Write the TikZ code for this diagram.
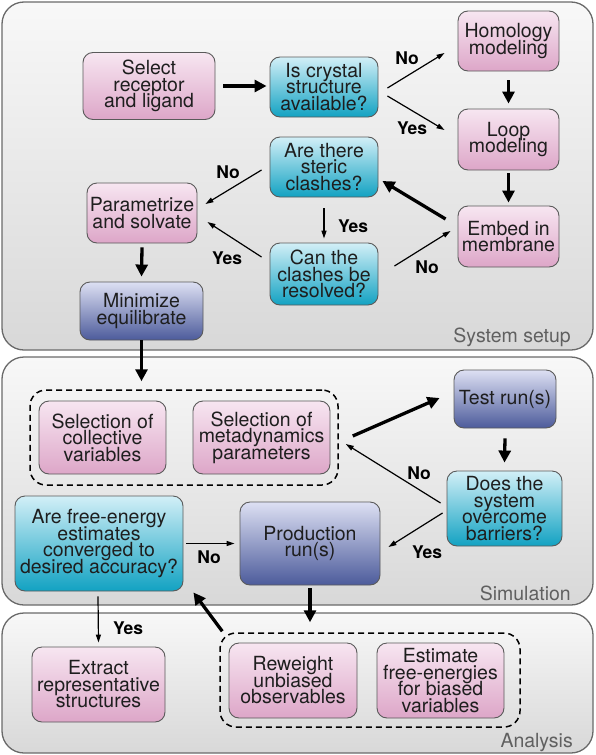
\documentclass[tikz,border=0pt]{standalone}
\usepackage{fontspec}
\setmainfont{TeX Gyre Heros}
\usetikzlibrary{arrows.meta,calc}
\definecolor{pinkT}{HTML}{F7E6F1}
\definecolor{pinkB}{HTML}{DDA6C8}
\definecolor{cyanT}{HTML}{D2EFF7}
\definecolor{cyanB}{HTML}{12A2C2}
\definecolor{blueT}{HTML}{DDE0F3}
\definecolor{blueB}{HTML}{4C5B9B}
\definecolor{panT}{HTML}{F8F8F8}
\definecolor{panB}{HTML}{D8D8D8}
\definecolor{edge}{HTML}{5A5A5A}
\definecolor{panedge}{HTML}{6A6A6A}
\definecolor{txt}{HTML}{1E1E1E}
\definecolor{lbl}{HTML}{606060}
\newcommand\myboxfont{\fontsize{19.5}{16.5}\selectfont\lineskiplimit=-30pt\relax}
\begin{document}
\begin{tikzpicture}[x=1pt,y=-1pt,
  box/.style={rounded corners=10pt, draw=edge, line width=0.9pt, align=center, inner sep=0pt, text=txt,
    font=\myboxfont},
  pinkbox/.style={box, top color=pinkT, bottom color=pinkB},
  cyanbox/.style={box, top color=cyanT, bottom color=cyanB},
  bluebox/.style={box, top color=blueT, bottom color=blueB},
  panel/.style={rounded corners=22pt, draw=panedge, line width=1.3pt, top color=panT, bottom color=panB, inner sep=0pt},
  grp/.style={rounded corners=16pt, draw=black, line width=1.5pt, dash pattern=on 6pt off 4pt, inner sep=0pt},
  thk/.style={line width=3.3pt, -{Triangle[length=12pt,width=12pt]}},
  thn/.style={line width=1.2pt, -{Triangle[length=8pt,width=5pt]}},
  ans/.style={font=\fontsize{17.5}{18}\selectfont\bfseries, text=black, inner sep=0pt},
  plabel/.style={font=\fontsize{19.5}{20}\selectfont, text=lbl, anchor=east, inner sep=0pt}
]
\useasboundingbox (0,0) rectangle (596,755);

% panels
\node[panel, minimum width=591pt, minimum height=348pt] (p1) at (297.5,176) {};
\node[panel, minimum width=591pt, minimum height=248pt] (p2) at (297.5,481) {};
\node[panel, minimum width=591pt, minimum height=140pt] (p3) at (297.5,683) {};
\node[plabel] (l1) at (571,337) {System setup};
\node[plabel] (l2) at (571,593) {Simulation};
\node[plabel] (l3) at (573,743) {Analysis};

% dashed groups
\node[grp, minimum width=308pt, minimum height=95pt] (g1) at (184,437.5) {};
\node[grp, minimum width=300pt, minimum height=94pt] (g2) at (370,680) {};

% System setup
\node[pinkbox, minimum width=132pt, minimum height=67pt] (sel) at (149,86) {Select\\receptor\\and ligand};
\node[cyanbox, minimum width=108pt, minimum height=60pt] (cry) at (324,87) {Is crystal\\structure\\available?};
\node[pinkbox, minimum width=101pt, minimum height=60pt] (hom) at (508.5,41) {Homology\\modeling};
\node[pinkbox, minimum width=101pt, minimum height=61pt] (loop) at (508.5,139.5) {Loop\\modeling};
\node[pinkbox, minimum width=101pt, minimum height=61pt] (emb) at (508.5,236.5) {Embed in\\membrane};
\node[cyanbox, minimum width=108pt, minimum height=60pt] (ste) at (324,167) {Are there\\steric\\clashes?};
\node[cyanbox, minimum width=108pt, minimum height=62pt] (can) at (324,274) {Can the\\clashes be\\resolved?};
\node[pinkbox, minimum width=110pt, minimum height=60pt] (par) at (142,213) {Parametrize\\and solvate};
\node[bluebox, minimum width=123pt, minimum height=58pt] (min) at (141.5,311) {Minimize\\equilibrate};

% Simulation
\node[pinkbox, minimum width=127pt, minimum height=73pt] (scv) at (102.5,437.5) {Selection of\\collective\\variables};
\node[pinkbox, minimum width=137pt, minimum height=73pt] (smp) at (261.5,437.5) {Selection of\\metadynamics\\parameters};
\node[bluebox, minimum width=102pt, minimum height=58pt] (test) at (505,399) {Test run(s)};
\node[cyanbox, minimum width=115pt, minimum height=75pt] (does) at (504.5,508.5) {Does the\\system\\overcome\\barriers?};
\node[bluebox, minimum width=140pt, minimum height=83pt] (prod) at (310,543.5) {Production\\run(s)};
\node[cyanbox, minimum width=168pt, minimum height=95pt] (fe) at (99,543.5) {Are free-energy\\estimates\\converged to\\desired accuracy?};

% Analysis
\node[pinkbox, minimum width=133pt, minimum height=75pt] (ext) at (98.5,684.5) {Extract\\representative\\structures};
\node[pinkbox, minimum width=128pt, minimum height=75pt] (rew) at (293,680.5) {Reweight\\unbiased\\observables};
\node[pinkbox, minimum width=127pt, minimum height=75pt] (est) at (440.5,680.5) {Estimate\\free-energies\\for biased\\variables};

% connectors: system setup
\draw[thk] ($(sel.east)+(8,0)$) -- ($(cry.west)+(-3,-1)$);
\draw[thn] ($(cry.east)+(9,1)$) -- ($(hom.west)+(-13,12)$);
\node[ans] (n1) at (407,58) {No};
\draw[thn] ($(cry.east)+(9,9)$) -- ($(loop.west)+(-13,-9.5)$);
\node[ans] (y1) at (412,128) {Yes};
\draw[thk] ($(hom.south)+(0,9)$) -- ($(loop.north)+(0,-5)$);
\draw[thk] ($(loop.south)+(0,3)$) -- ($(emb.north)+(0,-3)$);
\draw[thk] ($(emb.west)+(-12,-17.5)$) -- ($(ste.east)+(4,14)$);
\draw[thn] ($(ste.south)+(0,11)$) -- ($(can.north)+(0,-4)$);
\node[ans] (y2) at (353,226) {Yes};
\draw[thn] ($(can.east)+(16,-8)$) -- ($(emb.west)+(-7,-5.5)$);
\node[ans] (n2) at (427,267) {No};
\draw[thn] ($(ste.west)+(-8,3)$) -- ($(par.east)+(8,-9)$);
\node[ans] (n3) at (228,172) {No};
\draw[thn] ($(can.west)+(-8,-17)$) -- ($(par.east)+(10,9)$);
\node[ans] (y3) at (227,258) {Yes};
\draw[thk] ($(par.south)+(0,4)$) -- ($(min.north)+(0,-5)$);
\draw[thk] ($(min.south)+(0,0)$) -- ($(min.south |- g1.north)+(0,-8)$);

% connectors: simulation
\draw[thk] ($(g1.east)+(14,-1.5)$) -- ($(test.west)+(-14,-1)$);
\draw[thk] ($(test.south)+(0,10)$) -- ($(does.north)+(0,-8)$);
\draw[thn] ($(does.west)+(-6,-5.5)$) -- ($(g1.east)+(7,6.5)$);
\node[ans] (n4) at (419,473) {No};
\draw[thn] ($(does.west)+(-4,4.5)$) -- ($(prod.east)+(8,3.5)$);
\node[ans] (y4) at (427,552) {Yes};
\draw[thn] ($(fe.east)+(3,0)$) -- ($(prod.west)+(-5,0)$);
\node[ans] (n5) at (209,557) {No};
\draw[thk] ($(prod.south)+(0,3)$) -- ($(prod.south |- g2.north)+(0,-10)$);
\draw[thk] ($(g2.north west)+(3,-1)$) -- ($(fe.south east)+(10,1)$);
\draw[thn] ($(fe.south)+(-1,5)$) -- ($(ext.north)+(0,-4)$);
\node[ans] (y5) at (128,628) {Yes};
\end{tikzpicture}
\end{document}
